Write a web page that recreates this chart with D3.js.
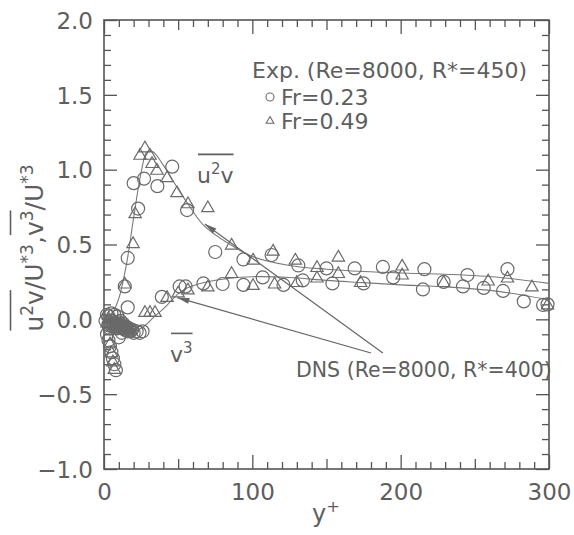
<!DOCTYPE html>
<html>
<head>
<meta charset="utf-8">
<script src="https://cdn.jsdelivr.net/npm/d3@7"></script>
<style>
  html, body { margin: 0; padding: 0; background: #fff; }
  svg { display: block; }
  text { font-family: "DejaVu Sans", sans-serif; fill: #5e5e5e; }
</style>
</head>
<body>
<svg id="chart" width="574" height="535"></svg>
<script>
// Experimental third-order moments, Fr = 0.23 (circles)
const circleYPlus = [
  1, 2, 3, 3, 4, 5, 5, 6, 7, 7, 8, 9, 9, 10, 11, 12, 13, 14, 15, 16, 17, 18, 19, 20, 22, 24, 26,
  6, 8, 10, 12, 14, 9, 11, 13, 15, 17,
  2, 3, 4, 5, 6, 7, 8, 10, 12, 16,
  14, 16, 20, 23, 27, 36, 46, 56, 75, 94, 113, 131, 150, 169, 188, 216, 245, 272,
  39, 51, 55, 67, 80, 94, 107, 121, 134, 154, 175, 195, 215, 229, 242, 256, 269, 283, 296, 299
];
const circleMoment = [
  -0.01, 0.03, -0.04, 0.02, -0.06, -0.01, 0.04, -0.05, -0.02, 0.03, -0.06, -0.03, 0.02, -0.05, -0.01, -0.06, -0.03, -0.07, -0.05, -0.08, -0.06, -0.08, -0.07, -0.09, -0.08, -0.09, -0.08,
  -0.03, -0.04, -0.02, -0.04, -0.05, -0.06, -0.04, -0.05, -0.07, -0.07,
  -0.10, -0.14, -0.18, -0.22, -0.26, -0.30, -0.34, -0.12, -0.09, 0.08,
  0.22, 0.41, 0.91, 0.74, 0.94, 0.89, 1.02, 0.73, 0.45, 0.40, 0.43, 0.36, 0.34, 0.34, 0.35, 0.335, 0.296, 0.335,
  0.15, 0.22, 0.22, 0.24, 0.236, 0.23, 0.28, 0.23, 0.26, 0.24, 0.24, 0.28, 0.20, 0.25, 0.22, 0.21, 0.19, 0.12, 0.096, 0.10
];

// Experimental third-order moments, Fr = 0.49 (triangles)
const triYPlus = [
  2, 3, 4, 5, 6, 7, 8, 9, 10, 11, 12, 13, 15, 17, 4, 5, 6, 7,
  8, 10, 12, 14, 16, 18,
  14, 19.6, 21, 24.3, 27.6, 31, 32.4, 35.7, 42.5, 49.2, 56.6, 70, 86, 100.5, 114, 129, 143.6, 158, 201, 201,
  27.6, 31, 34.4, 42.5, 50, 56.6, 70, 86, 100.5, 115, 130, 143.6, 158, 173, 229, 259, 272, 288.5, 299
];
const triMoment = [
  -0.02, 0.01, -0.04, -0.02, -0.05, -0.03, -0.06, -0.04, -0.05, -0.03, -0.06, -0.04, -0.05, -0.06, -0.16, -0.22, -0.28, -0.33,
  -0.02, -0.03, -0.04, -0.05, -0.06, -0.07,
  0.24, 0.51, 0.71, 1.10, 1.15, 1.10, 1.045, 1.00, 0.95, 0.85, 0.776, 0.75, 0.50, 0.40, 0.46, 0.40, 0.35, 0.42, 0.36, 0.30,
  0.05, 0.05, 0.05, 0.15, 0.18, 0.20, 0.22, 0.31, 0.23, 0.24, 0.25, 0.28, 0.31, 0.25, 0.25, 0.26, 0.28, 0.22, 0.10
];

// DNS profiles (Re = 8000, R* = 400)
const dnsYPlus = [0, 5, 10, 15, 20, 25, 29, 33, 40, 50, 56, 67, 85, 100, 125, 150, 175, 200, 233, 267, 300];
const dnsU2V  = [0, 0.03, 0.14, 0.36, 0.68, 0.98, 1.12, 1.12, 1.03, 0.87, 0.78, 0.63, 0.50, 0.42, 0.36, 0.335, 0.32, 0.31, 0.30, 0.28, 0.24];
const dnsV3   = [0, -0.03, -0.06, -0.08, -0.08, -0.06, -0.03, 0.01, 0.07, 0.17, 0.21, 0.245, 0.275, 0.285, 0.28, 0.26, 0.245, 0.23, 0.215, 0.185, 0.13];

// Axis ticks
const xTickLabels = [0, 100, 200, 300];
const yTickLabels = [-1.0, -0.5, 0.0, 0.5, 1.0, 1.5, 2.0];

const svg = d3.select("#chart");
const plotL = 104, plotR = 549, plotT = 20, plotB = 469;
const ink = "#555";
const markColor = "#6a6a6a";

const x = d3.scaleLinear().domain([0, 300]).range([plotL, plotR]);
const y = d3.scaleLinear().domain([-1, 2]).range([plotB, plotT]);

const xMinor = d3.range(0, 301, 10);
const yMinor = d3.range(-10, 21, 1).map(v => +(v / 10).toFixed(1));
const isMajorX = v => xTickLabels.includes(v);
const isMajorY = v => yTickLabels.some(t => Math.abs(t - v) < 1e-9);
const xTickLen = v => isMajorX(v) ? 14 : (v % 50 === 0 ? 10 : 7);
const yTickLen = v => isMajorY(v) ? 13 : 7;

function styleAxis(g) {
  g.select(".domain").remove();
  g.selectAll("line").attr("stroke", ink).attr("stroke-width", 1.3);
}

// bottom axis with labels
const gB = svg.append("g").attr("transform", `translate(0,${plotB})`)
  .call(d3.axisBottom(x).tickValues(xMinor).tickSizeOuter(0).tickSize(-7)
    .tickFormat(v => isMajorX(v) ? d3.format("d")(v) : ""));
styleAxis(gB);
gB.selectAll(".tick line").attr("y2", d => -xTickLen(d));
gB.selectAll(".tick text").attr("y", 31).attr("dy", null)
  .style("font-size", "23px").attr("fill", "#5e5e5e");

// top axis
const gT = svg.append("g").attr("transform", `translate(0,${plotT})`)
  .call(d3.axisTop(x).tickValues(xMinor).tickSizeOuter(0).tickSize(-7).tickFormat(""));
styleAxis(gT);
gT.selectAll(".tick line").attr("y2", d => xTickLen(d));

// left axis with labels
const gL = svg.append("g").attr("transform", `translate(${plotL},0)`)
  .call(d3.axisLeft(y).tickValues(yMinor).tickSizeOuter(0).tickSize(-7)
    .tickFormat(v => isMajorY(v) ? d3.format(".1f")(v) : ""));
styleAxis(gL);
gL.selectAll(".tick line").attr("x2", d => yTickLen(d));
gL.selectAll(".tick text").attr("x", -11).attr("dy", "0.36em")
  .style("font-size", "23px").attr("fill", "#5e5e5e");

// right axis
const gR = svg.append("g").attr("transform", `translate(${plotR},0)`)
  .call(d3.axisRight(y).tickValues(yMinor).tickSizeOuter(0).tickSize(-7).tickFormat(""));
styleAxis(gR);
gR.selectAll(".tick line").attr("x2", d => -yTickLen(d));

// frame
svg.append("rect").attr("x", plotL).attr("y", plotT)
  .attr("width", plotR - plotL).attr("height", plotB - plotT)
  .attr("fill", "none").attr("stroke", ink).attr("stroke-width", 1.6);

// DNS curves
const line = d3.line().curve(d3.curveCatmullRom.alpha(0.5));
[dnsU2V, dnsV3].forEach(series => {
  svg.append("path")
    .attr("d", line(dnsYPlus.map((v, i) => [x(v), y(series[i])])))
    .attr("fill", "none").attr("stroke", "#7a7a7a").attr("stroke-width", 1.1);
});

// experimental points
const tri = d3.symbol().type(d3.symbolTriangle).size(66);
svg.append("g").selectAll("circle").data(circleYPlus).join("circle")
  .attr("cx", d => x(d)).attr("cy", (d, i) => y(circleMoment[i])).attr("r", 6.5)
  .attr("fill", "none").attr("stroke", markColor).attr("stroke-width", 1.2);
svg.append("g").selectAll("path").data(triYPlus).join("path")
  .attr("d", tri).attr("transform", (d, i) => `translate(${x(d)},${y(triMoment[i]) + 1})`)
  .attr("fill", "none").attr("stroke", markColor).attr("stroke-width", 1.2);

// text made of plain runs, superscripts and overbars
function richText(parent, segs, size, anchor) {
  const g = parent.append("g");
  let cx = 0;
  const runs = [];
  segs.forEach(s => {
    const fs = s.sup ? size * 0.68 : size;
    const el = g.append("text").attr("x", cx).attr("y", s.sup ? -size * 0.42 : 0)
      .style("font-size", fs + "px").text(s.t);
    const w = el.node().getComputedTextLength();
    runs.push({ x0: cx, x1: cx + w, bar: s.bar });
    cx += w;
  });
  const bars = d3.group(runs.filter(r => r.bar), r => r.bar);
  bars.forEach(rs => {
    const by = -size * 1.3;
    g.append("line").attr("x1", d3.min(rs, r => r.x0) + 1).attr("x2", d3.max(rs, r => r.x1))
      .attr("y1", by).attr("y2", by).attr("stroke", "#5e5e5e").attr("stroke-width", 1.6);
  });
  const shift = anchor === "middle" ? -cx / 2 : (anchor === "end" ? -cx : 0);
  g.selectAll("*").each(function () {
    const n = d3.select(this);
    if (this.tagName === "text") n.attr("x", +n.attr("x") + shift);
    else n.attr("x1", +n.attr("x1") + shift).attr("x2", +n.attr("x2") + shift);
  });
  return g;
}

// axis titles
richText(svg.append("g").attr("transform", "translate(326,522)"),
  [{ t: "y" }, { t: "+", sup: true }], 24, "middle");
richText(svg.append("g").attr("transform", "translate(43,248) rotate(-90)"),
  [{ t: "u", bar: 1 }, { t: "2", sup: true, bar: 1 }, { t: "v", bar: 1 }, { t: "/U" }, { t: "*3", sup: true },
   { t: ", " }, { t: "v", bar: 2 }, { t: "3", sup: true, bar: 2 }, { t: "/U" }, { t: "*3", sup: true }], 25, "middle");

// curve labels
richText(svg.append("g").attr("transform", "translate(197,183)"),
  [{ t: "u", bar: 1 }, { t: "2", sup: true, bar: 1 }, { t: "v", bar: 1 }], 22, "start");
richText(svg.append("g").attr("transform", "translate(170,362)"),
  [{ t: "v", bar: 1 }, { t: "3", sup: true, bar: 1 }], 22, "start");

// legend
const legend = svg.append("g");
legend.append("text").attr("x", 252).attr("y", 78).style("font-size", "22px")
  .text("Exp. (Re=8000, R*=450)");
legend.append("circle").attr("cx", 270).attr("cy", 97).attr("r", 4)
  .attr("fill", "none").attr("stroke", markColor).attr("stroke-width", 1.1);
legend.append("path").attr("d", d3.symbol().type(d3.symbolTriangle).size(26))
  .attr("transform", "translate(270,121)")
  .attr("fill", "none").attr("stroke", markColor).attr("stroke-width", 1.1);
legend.append("text").attr("x", 281).attr("y", 105).style("font-size", "22px").text("Fr=0.23");
legend.append("text").attr("x", 281).attr("y", 129).style("font-size", "22px").text("Fr=0.49");

// DNS annotation with arrows to both curves
svg.append("text").attr("x", 296).attr("y", 377).style("font-size", "20.5px")
  .text("DNS (Re=8000, R*=400)");
const arrows = [
  { from: [188, -0.225], to: [68, 0.637] },
  { from: [180, -0.225], to: [49.5, 0.145] }
];
arrows.forEach(a => {
  const x1 = x(a.from[0]), y1 = y(a.from[1]), x2 = x(a.to[0]), y2 = y(a.to[1]);
  svg.append("line").attr("x1", x1).attr("y1", y1).attr("x2", x2).attr("y2", y2)
    .attr("stroke", "#666").attr("stroke-width", 1.2);
  const ang = Math.atan2(y2 - y1, x2 - x1);
  const L = 12, W = 3;
  const bx = x2 - L * Math.cos(ang), by = y2 - L * Math.sin(ang);
  const px = -Math.sin(ang) * W, py = Math.cos(ang) * W;
  svg.append("path")
    .attr("d", `M${x2},${y2}L${bx + px},${by + py}L${bx - px},${by - py}Z`)
    .attr("fill", "#666");
});
</script>
</body>
</html>
